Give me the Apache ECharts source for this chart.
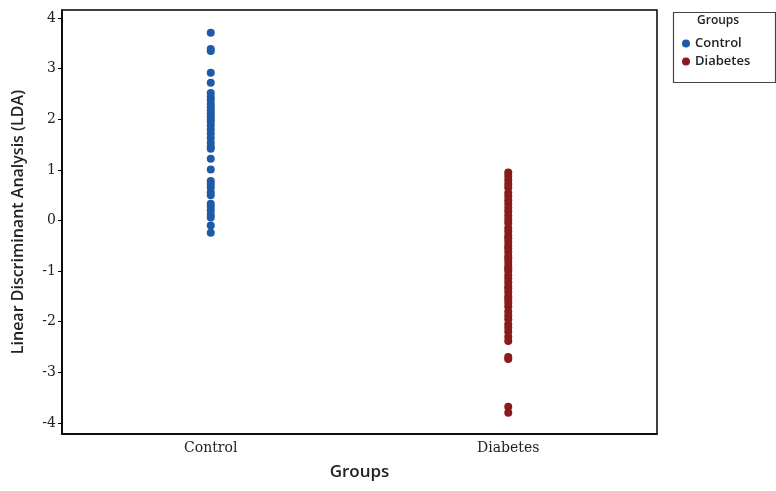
<!DOCTYPE html>
<html>
<head>
<meta charset="utf-8">
<script src="https://cdn.jsdelivr.net/npm/echarts@6/dist/echarts.min.js"></script>
<style>html,body{margin:0;padding:0;background:#fff}#c{width:776px;height:491px}</style>
</head>
<body>
<div id="c"></div>
<script>
var categories = ['Control', 'Diabetes'];
var yTicks = [-4, -3, -2, -1, 0, 1, 2, 3, 4];
var controlValues = [3.71, 3.39, 3.35, 2.92, 2.72, 2.52, 2.44, 2.38, 2.30, 2.24, 2.18, 2.12, 2.06, 2.0, 1.95, 1.88, 1.8, 1.72, 1.63, 1.53, 1.45, 1.42, 1.22, 1.01, 0.78, 0.72, 0.65, 0.56, 0.5, 0.33, 0.27, 0.2, 0.12, 0.06, -0.1, -0.24];
var diabetesValues = [0.95, 0.88, 0.8, 0.72, 0.65, 0.55, 0.48, 0.4, 0.33, 0.25, 0.18, 0.1, 0.02, -0.05, -0.15, -0.22, -0.3, -0.35, -0.42, -0.5, -0.55, -0.62, -0.7, -0.75, -0.82, -0.9, -0.95, -1.0, -1.08, -1.15, -1.22, -1.3, -1.35, -1.42, -1.5, -1.55, -1.62, -1.7, -1.8, -1.88, -1.95, -2.05, -2.12, -2.2, -2.3, -2.38, -2.7, -2.74, -3.68, -3.8];

var chart = echarts.init(document.getElementById('c'));
var serif = '"DejaVu Serif", "Liberation Serif", serif';
chart.setOption({
  animation: false,
  backgroundColor: '#fff',
  grid: { left: 62, right: 119, top: 10, bottom: 57, show: true, borderColor: '#000', borderWidth: 1.5, backgroundColor: 'transparent' },
  xAxis: {
    type: 'category', data: categories, boundaryGap: true,
    name: 'Groups', nameLocation: 'middle', nameGap: 30,
    nameTextStyle: { fontFamily: '"Open Sans", sans-serif', fontSize: 17, fontWeight: 600, color: '#222' },
    axisLine: { onZero: false, lineStyle: { color: '#000', width: 1.5 } },
    axisTick: { alignWithLabel: true, length: 4, lineStyle: { color: '#000' } },
    axisLabel: { fontFamily: serif, fontSize: 14, color: '#222', margin: 7 },
    splitLine: { show: false }
  },
  yAxis: {
    type: 'value', min: -4.22, max: 4.16,
    name: 'Linear Discriminant Analysis (LDA)', nameLocation: 'middle', nameGap: 36,
    nameTextStyle: { fontFamily: '"Open Sans", sans-serif', fontSize: 16, fontWeight: 600, color: '#222' },
    axisLine: { show: true, onZero: false, lineStyle: { color: '#000', width: 1.5 } },
    axisTick: { show: true, length: 4, lineStyle: { color: '#000' }, customValues: yTicks },
    axisLabel: { fontFamily: serif, fontSize: 14, color: '#222', margin: 6, customValues: yTicks },
    splitLine: { show: false }
  },
  legend: {
    orient: 'vertical', left: 677, top: 32, itemGap: 5,
    icon: 'circle', itemWidth: 8, itemHeight: 8,
    textStyle: { fontFamily: '"Open Sans", sans-serif', fontSize: 13, fontWeight: 600, color: '#222' },
    data: categories
  },
  graphic: [
    { type: 'rect', left: 671, top: 10, shape: { width: 102, height: 70 }, style: { fill: 'none', stroke: '#444', lineWidth: 1.2 } },
    { type: 'text', left: 697, top: 15, style: { text: 'Groups', font: '600 12px "Open Sans", sans-serif', fill: '#222' } }
  ],
  series: [
    { name: 'Control', type: 'scatter', symbolSize: 8, itemStyle: { color: '#1f5aa8', opacity: 1 },
      data: controlValues.map(function (v) { return ['Control', v]; }) },
    { name: 'Diabetes', type: 'scatter', symbolSize: 8, itemStyle: { color: '#8b1a1a', opacity: 1 },
      data: diabetesValues.map(function (v) { return ['Diabetes', v]; }) }
  ]
});
</script>
</body>
</html>
